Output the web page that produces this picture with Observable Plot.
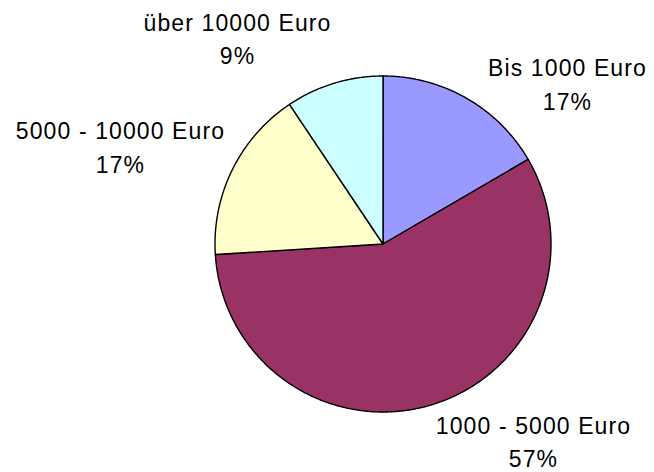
<!DOCTYPE html>
<html>
<head>
<meta charset="utf-8">
<script src="https://cdn.jsdelivr.net/npm/d3@7"></script>
<script src="https://cdn.jsdelivr.net/npm/@observablehq/plot@0.6"></script>
<style>
  html, body { margin: 0; padding: 0; background: #fff; }
  #chart svg { display: block; }
  #chart text { letter-spacing: 1.1px; }
</style>
</head>
<body>
<div id="chart"></div>
<script>
// ---- data ----
const categories = ["Bis 1000 Euro", "1000 - 5000 Euro", "5000 - 10000 Euro", "über 10000 Euro"];
const shares = [16.6, 57.4, 16.6, 9.4];
const sliceColors = ["#9999FF", "#993366", "#FFFFCC", "#CCFFFF"];

// ---- layout ----
const W = 654, H = 472;
const cx = 382.5, cy = 243.5, R = 168;
// label nudges relative to the outer arc point at each slice's mid-angle
const labelNudge = [[100.8, 11.2], [101.6, 62.6], [-111.9, 2.9], [-96.6, -18.8]];

const total = d3.sum(shares);
const pie = d3.pie().sort(null).value(d => d)(shares);

const pts = [];
pie.forEach((s, i) => {
  const name = categories[i];
  pts.push({name, x: cx, y: cy});
  const n = Math.max(2, Math.ceil((s.endAngle - s.startAngle) / (Math.PI / 360)));
  for (let k = 0; k <= n; k++) {
    const t = s.startAngle + (s.endAngle - s.startAngle) * k / n;
    pts.push({name, x: cx + R * Math.sin(t), y: cy - R * Math.cos(t)});
  }
});

const labels = pie.map((s, i) => {
  const m = (s.startAngle + s.endAngle) / 2;
  return {
    text: categories[i] + "\n" + Math.round(shares[i] / total * 100) + "%",
    x: cx + R * Math.sin(m) + labelNudge[i][0],
    y: cy - R * Math.cos(m) + labelNudge[i][1]
  };
});

const chart = Plot.plot({
  width: W,
  height: H,
  margin: 0,
  x: {domain: [0, W], range: [0, W], axis: null},
  y: {domain: [0, H], range: [0, H], axis: null},
  color: {domain: categories, range: sliceColors},
  style: {background: "#fff", fontFamily: "'Liberation Sans', Arial, sans-serif"},
  marks: [
    Plot.line(pts, {
      x: "x", y: "y", z: "name", fill: "name",
      stroke: "#000", strokeWidth: 1.4, strokeLinejoin: "round",
      curve: "linear-closed"
    }),
    Plot.text(labels, {
      x: "x", y: "y", text: "text",
      fontSize: 23, fill: "#000", textAnchor: "middle",
      lineAnchor: "bottom", lineHeight: 1.46,
      fontFamily: "'Liberation Sans', Arial, sans-serif"
    })
  ]
});

document.getElementById("chart").appendChild(chart);
</script>
</body>
</html>
